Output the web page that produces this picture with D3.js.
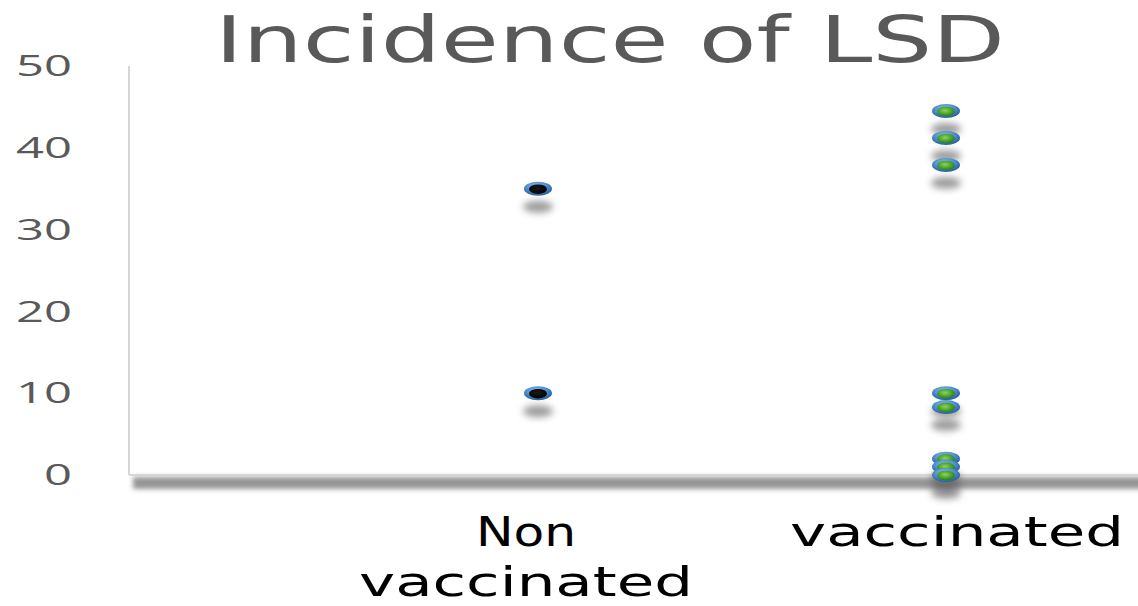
<!DOCTYPE html>
<html>
<head>
<meta charset="utf-8" />
<script src="https://d3js.org/d3.v7.min.js"></script>
<style>
  body { margin: 0; background: #fff; }
</style>
<title>Incidence of LSD</title>
</head>
<body>
<div id="chart"></div>
<script>
// data
var categories = ["Non vaccinated", "vaccinated"];
var nonVaccinated = [35, 10];
var vaccinated = [44.5, 41.2, 37.9, 10, 8.3, 2, 1, 0];
var yTicks = [0, 10, 20, 30, 40, 50];

var width = 1138, height = 606;

var svg = d3.select("#chart").append("svg")
    .attr("width", width)
    .attr("height", height);

var defs = svg.append("defs");

// blur filters for the shadows
defs.append("filter").attr("id", "blur3")
    .attr("x", "-50%").attr("y", "-100%").attr("width", "200%").attr("height", "300%")
  .append("feGaussianBlur").attr("stdDeviation", 3.5);
defs.append("filter").attr("id", "blurAxis")
    .attr("x", "-5%").attr("y", "-100%").attr("width", "110%").attr("height", "300%")
  .append("feGaussianBlur").attr("stdDeviation", 2.5);

// marker gradients
var ring = defs.append("radialGradient").attr("id", "ring")
    .attr("cx", "45%").attr("cy", "35%").attr("r", "60%");
ring.append("stop").attr("offset", "0%").attr("stop-color", "#9cc3ea");
ring.append("stop").attr("offset", "60%").attr("stop-color", "#4f8fd0");
ring.append("stop").attr("offset", "100%").attr("stop-color", "#2c64a6");

var green = defs.append("radialGradient").attr("id", "green")
    .attr("cx", "45%").attr("cy", "40%").attr("r", "60%");
green.append("stop").attr("offset", "0%").attr("stop-color", "#8fd35a");
green.append("stop").attr("offset", "60%").attr("stop-color", "#48a52c");
green.append("stop").attr("offset", "100%").attr("stop-color", "#2c7a1c");

var dark = defs.append("radialGradient").attr("id", "dark")
    .attr("cx", "45%").attr("cy", "40%").attr("r", "60%");
dark.append("stop").attr("offset", "0%").attr("stop-color", "#1a1a1a");
dark.append("stop").attr("offset", "100%").attr("stop-color", "#000");

// scales
var x = d3.scaleLinear().domain([0, 2.5]).range([130, 1150]);
var y = d3.scaleLinear().domain([0, 50]).range([475, 66]);

// title
svg.append("text")
    .attr("x", 610)
    .attr("y", 62)
    .attr("text-anchor", "middle")
    .style("font-family", "'DejaVu Sans', sans-serif")
    .attr("font-size", 64)
    .attr("fill", "#595959")
    .attr("textLength", 790)
    .attr("lengthAdjust", "spacingAndGlyphs")
    .text("Incidence of LSD");

// plot frame: y axis line and x axis with its heavy shadow
svg.append("rect")
    .attr("x", 133).attr("y", 477)
    .attr("width", 1030).attr("height", 12)
    .attr("fill", "#949494")
    .attr("filter", "url(#blurAxis)");
svg.append("line")
    .attr("x1", 126).attr("x2", 126)
    .attr("y1", y(50)).attr("y2", y(0) + 2)
    .attr("stroke", "#cfcfcf").attr("stroke-width", 3)
    .attr("filter", "url(#blurAxis)");
svg.append("line")
    .attr("x1", 129).attr("x2", 129)
    .attr("y1", y(50)).attr("y2", y(0))
    .attr("stroke", "#d6d6d6").attr("stroke-width", 2);
svg.append("line")
    .attr("x1", 129).attr("x2", 1138)
    .attr("y1", y(0)).attr("y2", y(0))
    .attr("stroke", "#d6d6d6").attr("stroke-width", 2);

// y axis labels
var yAxis = svg.append("g")
    .attr("transform", "translate(72,0)")
    .call(d3.axisLeft(y).tickValues(yTicks).tickSize(0).tickPadding(0));
yAxis.select(".domain").remove();
yAxis.selectAll("text")
    .attr("font-size", 30)
    .attr("fill", "#595959")
    .style("font-family", "'Open Sans', 'DejaVu Sans', sans-serif")
    .attr("textLength", function(d) { return String(d).length * 28; })
    .attr("lengthAdjust", "spacingAndGlyphs");

// category labels
var labelShift = [-12, 11];
var labels = svg.append("g");
categories.forEach(function(c, i) {
  var words = c.split(" ");
  var t = labels.append("text")
      .attr("text-anchor", "middle")
      .style("font-family", "'DejaVu Sans', sans-serif")
      .attr("font-size", 41)
      .attr("fill", "#000");
  words.forEach(function(w, j) {
    t.append("tspan")
      .attr("x", x(i + 1) + labelShift[i])
      .attr("y", 546 + j * 50)
      .attr("textLength", w.length * 33.4)
      .attr("lengthAdjust", "spacingAndGlyphs")
      .text(w);
  });
});

// points
var points = [];
nonVaccinated.forEach(function(v) { points.push({cat: 1, value: v, core: "url(#dark)"}); });
vaccinated.forEach(function(v) { points.push({cat: 2, value: v, core: "url(#green)"}); });

svg.append("g").selectAll("ellipse")
    .data(points)
    .enter().append("ellipse")
    .attr("cx", function(d) { return x(d.cat); })
    .attr("cy", function(d) { return y(d.value) + 18; })
    .attr("rx", 15).attr("ry", 6)
    .attr("fill", "#5a5a5a")
    .attr("opacity", 0.6)
    .attr("filter", "url(#blur3)");

var marks = svg.append("g").selectAll("g")
    .data(points)
    .enter().append("g")
    .attr("transform", function(d) { return "translate(" + x(d.cat) + "," + y(d.value) + ")"; });
marks.append("ellipse")
    .attr("rx", 14).attr("ry", 7)
    .attr("fill", "url(#ring)");
marks.append("ellipse")
    .attr("cy", 0.5)
    .attr("rx", 9).attr("ry", 4.8)
    .attr("fill", function(d) { return d.core; });
</script>
</body>
</html>
